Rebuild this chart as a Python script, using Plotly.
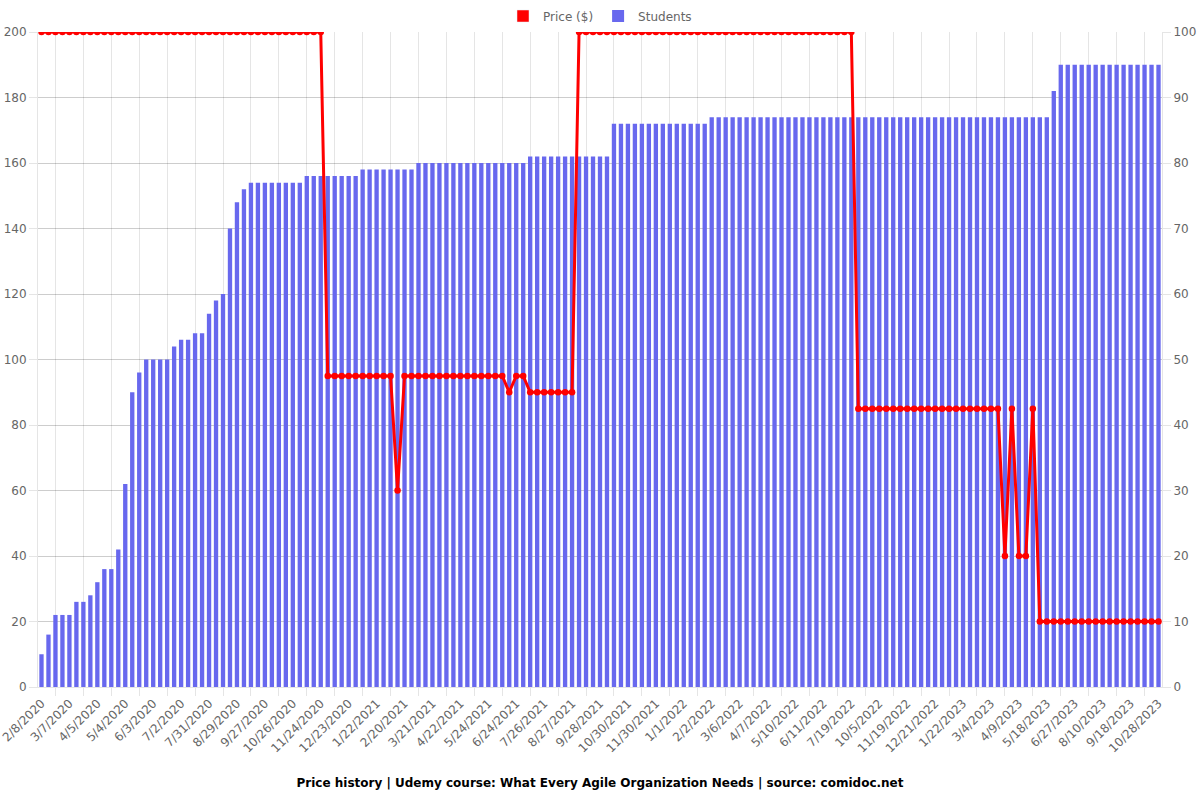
import plotly.graph_objects as go

# x categories (one per bar / price point)
dates = [
    "2/8/2020", "2/15/2020", "2/22/2020", "2/29/2020",
    "3/7/2020", "3/14/2020", "3/21/2020", "3/28/2020",
    "4/5/2020", "4/12/2020", "4/19/2020", "4/26/2020",
    "5/4/2020", "5/11/2020", "5/19/2020", "5/26/2020",
    "6/3/2020", "6/10/2020", "6/17/2020", "6/25/2020",
    "7/2/2020", "7/9/2020", "7/16/2020", "7/24/2020",
    "7/31/2020", "8/7/2020", "8/14/2020", "8/22/2020",
    "8/29/2020", "9/5/2020", "9/12/2020", "9/20/2020",
    "9/27/2020", "10/4/2020", "10/11/2020", "10/19/2020",
    "10/26/2020", "11/2/2020", "11/9/2020", "11/17/2020",
    "11/24/2020", "12/1/2020", "12/8/2020", "12/16/2020",
    "12/23/2020", "12/30/2020", "1/7/2021", "1/15/2021",
    "1/22/2021", "1/29/2021", "2/5/2021", "2/13/2021",
    "2/20/2021", "2/27/2021", "3/6/2021", "3/14/2021",
    "3/21/2021", "3/29/2021", "4/6/2021", "4/14/2021",
    "4/22/2021", "4/30/2021", "5/8/2021", "5/16/2021",
    "5/24/2021", "6/1/2021", "6/9/2021", "6/16/2021",
    "6/24/2021", "7/2/2021", "7/10/2021", "7/18/2021",
    "7/26/2021", "8/3/2021", "8/11/2021", "8/19/2021",
    "8/27/2021", "9/4/2021", "9/12/2021", "9/20/2021",
    "9/28/2021", "10/6/2021", "10/14/2021", "10/22/2021",
    "10/30/2021", "11/7/2021", "11/15/2021", "11/22/2021",
    "11/30/2021", "12/8/2021", "12/16/2021", "12/24/2021",
    "1/1/2022", "1/9/2022", "1/17/2022", "1/25/2022",
    "2/2/2022", "2/10/2022", "2/18/2022", "2/26/2022",
    "3/6/2022", "3/14/2022", "3/22/2022", "3/30/2022",
    "4/7/2022", "4/15/2022", "4/24/2022", "5/2/2022",
    "5/10/2022", "5/18/2022", "5/26/2022", "6/3/2022",
    "6/11/2022", "6/20/2022", "6/30/2022", "7/9/2022",
    "7/19/2022", "8/7/2022", "8/26/2022", "9/15/2022",
    "10/5/2022", "10/16/2022", "10/27/2022", "11/8/2022",
    "11/19/2022", "11/27/2022", "12/5/2022", "12/13/2022",
    "12/21/2022", "12/29/2022", "1/6/2023", "1/14/2023",
    "1/22/2023", "2/1/2023", "2/12/2023", "2/22/2023",
    "3/4/2023", "3/13/2023", "3/22/2023", "3/31/2023",
    "4/9/2023", "4/19/2023", "4/29/2023", "5/8/2023",
    "5/18/2023", "5/28/2023", "6/7/2023", "6/17/2023",
    "6/27/2023", "7/8/2023", "7/19/2023", "7/30/2023",
    "8/10/2023", "8/20/2023", "8/30/2023", "9/8/2023",
    "9/18/2023", "9/28/2023", "10/8/2023", "10/18/2023",
    "10/28/2023",
]

# labelled categories on the x axis
tick_labels = [
    "2/8/2020", "3/7/2020", "4/5/2020", "5/4/2020", "6/3/2020", "7/2/2020",
    "7/31/2020", "8/29/2020", "9/27/2020", "10/26/2020", "11/24/2020",
    "12/23/2020", "1/22/2021", "2/20/2021", "3/21/2021", "4/22/2021",
    "5/24/2021", "6/24/2021", "7/26/2021", "8/27/2021", "9/28/2021",
    "10/30/2021", "11/30/2021", "1/1/2022", "2/2/2022", "3/6/2022",
    "4/7/2022", "5/10/2022", "6/11/2022", "7/19/2022", "10/5/2022",
    "11/19/2022", "12/21/2022", "1/22/2023", "3/4/2023", "4/9/2023",
    "5/18/2023", "6/27/2023", "8/10/2023", "9/18/2023", "10/28/2023",
]

# categories where the vertical grid lines fall (midway between labels)
grid_cats = dates[2::4]

students = (
    [5, 8, 11, 11, 11, 13, 13, 14, 16, 18, 18, 21, 31, 45, 48,
     50, 50, 50, 50, 52, 53, 53, 54, 54, 57, 59, 60, 70, 74, 76]
    + [77] * 8 + [78] * 8 + [79] * 8 + [80] * 16 + [81] * 12
    + [86] * 14 + [87] * 49 + [91] + [95] * 15
)

price = (
    [199.99] * 41 + [94.99] * 10 + [59.99] + [94.99] * 15 + [89.99]
    + [94.99] * 2 + [89.99] * 7 + [199.99] * 40 + [84.99] * 21
    + [39.99, 84.99, 39.99, 39.99, 84.99] + [19.99] * 18
)

FONT = "DejaVu Sans"
GRID = "rgba(0,0,0,0.1)"
BLUE = "rgb(104,104,238)"
RED = "#ff0000"

fig = go.Figure()

# invisible helper trace so the grid axis knows the same categories
fig.add_trace(go.Scatter(
    x=dates, y=students, xaxis="x2", yaxis="y", mode="lines",
    line=dict(width=0), opacity=0, showlegend=False, hoverinfo="skip",
))

fig.add_trace(go.Bar(
    x=dates, y=students, name="Students", marker_color=BLUE,
    marker_line_width=0, width=0.62, yaxis="y", legendrank=2,
))

# legend box for the price series
fig.add_trace(go.Bar(
    x=[None], y=[None], name="Price ($)", marker_color=RED,
    yaxis="y", legendrank=1,
))

fig.add_trace(go.Scatter(
    x=dates, y=price, name="Price ($)", mode="lines+markers",
    line=dict(color=RED, width=3), marker=dict(color=RED, size=6.5),
    yaxis="y2", showlegend=False,
))

fig.update_layout(
    width=1200, height=800,
    margin=dict(l=38, r=38, t=32, b=113, autoexpand=False),
    paper_bgcolor="white", plot_bgcolor="white",
    barmode="overlay",
    font=dict(family=FONT, size=12, color="#666"),
    title=dict(
        text="<b>Price history | Udemy course: What Every Agile Organization Needs | source: comidoc.net</b>",
        x=0.5, xanchor="center", yref="container", y=1 - 783 / 800, yanchor="middle",
        font=dict(family=FONT, size=12, color="#000"),
    ),
    legend=dict(
        orientation="h", x=0.5, xanchor="center", y=1.0244, yanchor="middle",
        font=dict(family=FONT, size=12, color="#666"), bgcolor="rgba(0,0,0,0)",
    ),
    xaxis=dict(
        type="category", range=[-0.5, len(dates) - 0.5],
        tickmode="array", tickvals=tick_labels, ticktext=tick_labels,
        tickangle=-45, showgrid=False, ticks="", zeroline=False,
        showline=False, automargin=False, ticklabelstandoff=6,
        tickfont=dict(family=FONT, size=12, color="#666"),
    ),
    xaxis2=dict(
        type="category", overlaying="x", side="bottom", anchor="y",
        range=[-0.5, len(dates) - 0.5],
        tickmode="array", tickvals=grid_cats, showticklabels=False,
        showgrid=True, gridcolor=GRID, gridwidth=1,
        ticks="outside", ticklen=8, tickcolor=GRID, zeroline=False,
        showline=True, linecolor=GRID, automargin=False,
    ),
    yaxis=dict(
        side="right", range=[0, 100], tickmode="linear", tick0=0, dtick=10,
        showgrid=True, gridcolor=GRID, ticks="outside", ticklen=8,
        tickcolor=GRID, showline=True, linecolor=GRID, zeroline=False,
        automargin=False, tickfont=dict(family=FONT, size=12, color="#666"),
    ),
    yaxis2=dict(
        side="left", overlaying="y", range=[0, 200], tickmode="linear",
        tick0=0, dtick=20, showgrid=True, gridcolor=GRID, ticks="outside",
        ticklen=8, tickcolor=GRID, showline=True, linecolor=GRID,
        zeroline=False, automargin=False,
        tickfont=dict(family=FONT, size=12, color="#666"),
    ),
)

fig.write_html("out.html")
